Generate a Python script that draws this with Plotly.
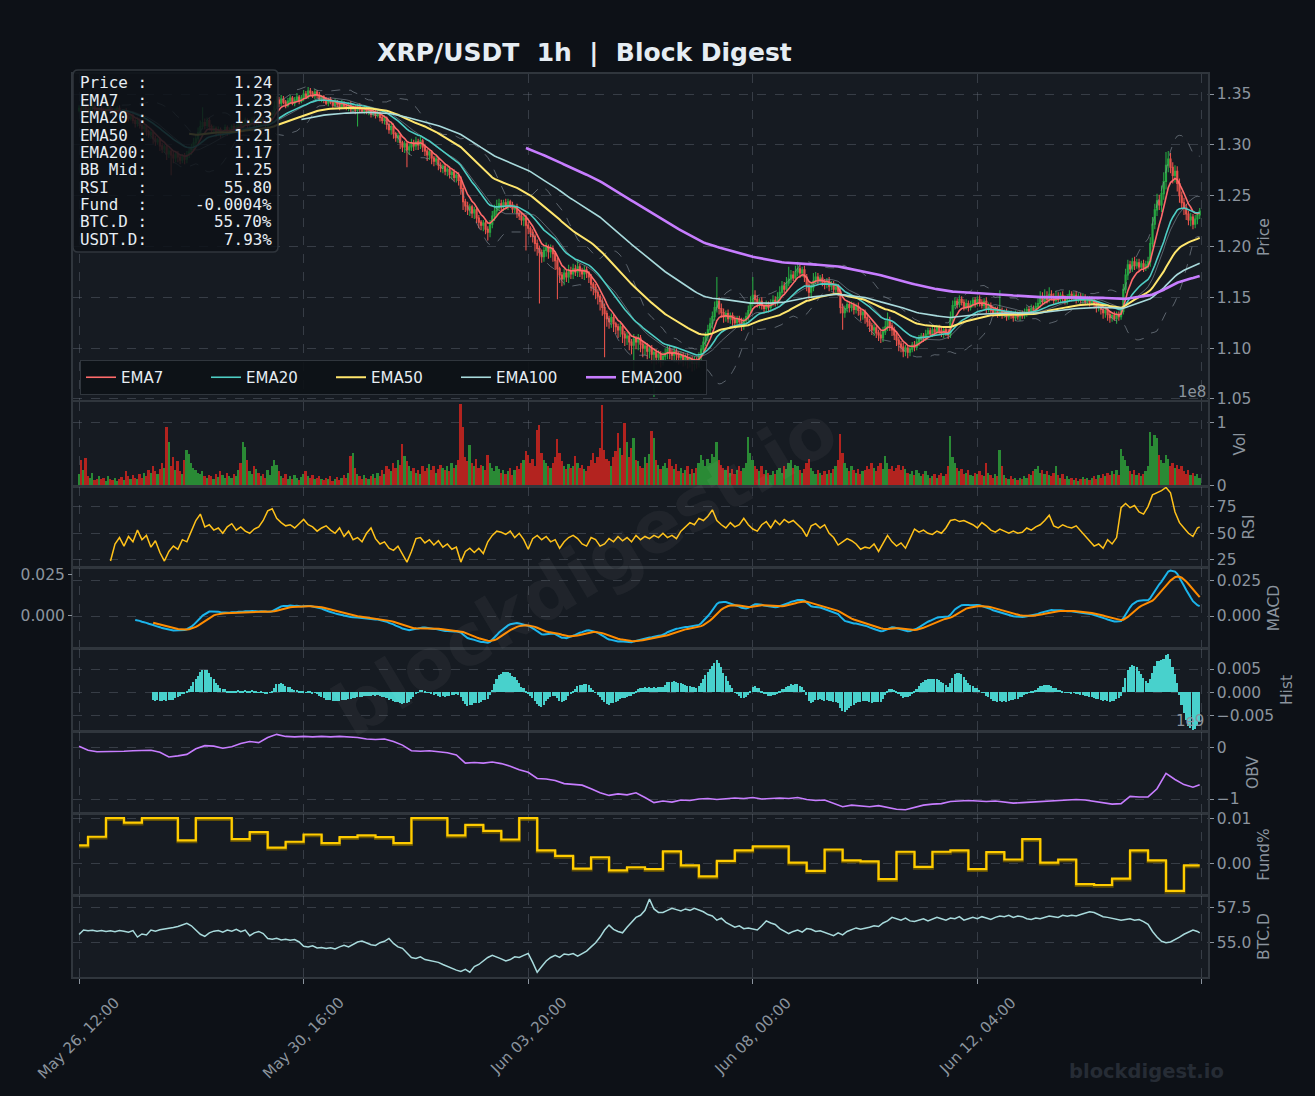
import numpy as np
import pandas as pd
import plotly.graph_objects as go

# ---------------- data ----------------
start_time = "2025-05-26 12:00"
first_open = 1.334

close = [
    1.336, 1.334, 1.338, 1.335, 1.332, 1.336, 1.339, 1.335, 1.333, 1.336,
    1.334, 1.331, 1.335, 1.337, 1.333, 1.330, 1.334, 1.336, 1.332, 1.331,
    1.333, 1.329, 1.326, 1.328, 1.324, 1.321, 1.324, 1.319, 1.316, 1.318,
    1.313, 1.310, 1.312, 1.306, 1.303, 1.305, 1.299, 1.296, 1.298, 1.291,
    1.294, 1.290, 1.287, 1.291, 1.288, 1.285, 1.289, 1.286, 1.290, 1.293,
    1.297, 1.302, 1.306, 1.312, 1.318, 1.322, 1.319, 1.324, 1.318, 1.314,
    1.316, 1.312, 1.315, 1.310, 1.313, 1.317, 1.312, 1.314, 1.318, 1.315,
    1.318, 1.321, 1.317, 1.320, 1.324, 1.319, 1.322, 1.325, 1.320, 1.323,
    1.321, 1.325, 1.322, 1.319, 1.323, 1.326, 1.330, 1.338, 1.344, 1.341,
    1.345, 1.342, 1.339, 1.343, 1.346, 1.341, 1.344, 1.347, 1.343, 1.346,
    1.350, 1.347, 1.353, 1.351, 1.348, 1.352, 1.349, 1.345, 1.347, 1.344,
    1.341, 1.344, 1.342, 1.339, 1.342, 1.340, 1.337, 1.341, 1.338, 1.336,
    1.339, 1.335, 1.337, 1.334, 1.338, 1.335, 1.333, 1.336, 1.332, 1.334,
    1.330, 1.333, 1.329, 1.331, 1.327, 1.324, 1.326, 1.320, 1.315, 1.318,
    1.311, 1.307, 1.309, 1.302, 1.298, 1.301, 1.295, 1.298, 1.302, 1.299,
    1.303, 1.300, 1.304, 1.298, 1.294, 1.290, 1.293, 1.287, 1.284, 1.286,
    1.280, 1.277, 1.279, 1.274, 1.276, 1.271, 1.273, 1.268, 1.270, 1.265,
    1.257, 1.244, 1.240, 1.236, 1.239, 1.233, 1.236, 1.228, 1.224, 1.221,
    1.223, 1.217, 1.214, 1.222, 1.230, 1.235, 1.238, 1.242, 1.239, 1.243,
    1.240, 1.244, 1.241, 1.237, 1.239, 1.233, 1.230, 1.226, 1.228, 1.221,
    1.218, 1.214, 1.210, 1.203, 1.198, 1.194, 1.190, 1.196, 1.199, 1.195,
    1.198, 1.193, 1.186, 1.178, 1.172, 1.168, 1.174, 1.170, 1.176, 1.173,
    1.178, 1.175, 1.180, 1.176, 1.173, 1.177, 1.174, 1.170, 1.163, 1.160,
    1.155, 1.151, 1.146, 1.140, 1.134, 1.129, 1.126, 1.130, 1.124, 1.121,
    1.118, 1.121, 1.114, 1.110, 1.112, 1.106, 1.103, 1.109, 1.106, 1.110,
    1.104, 1.100, 1.102, 1.097, 1.099, 1.094, 1.096, 1.091, 1.094, 1.089,
    1.092, 1.095, 1.099, 1.096, 1.093, 1.097, 1.094, 1.091, 1.093, 1.089,
    1.091, 1.087, 1.089, 1.085, 1.088, 1.086, 1.092, 1.099, 1.106, 1.112,
    1.118, 1.124, 1.131, 1.140, 1.146, 1.139, 1.135, 1.131, 1.134, 1.129,
    1.132, 1.128, 1.125, 1.129, 1.126, 1.123, 1.127, 1.131, 1.137, 1.145,
    1.152, 1.148, 1.144, 1.146, 1.142, 1.139, 1.143, 1.140, 1.144, 1.147,
    1.145, 1.150, 1.155, 1.161, 1.158, 1.164, 1.168, 1.172, 1.169, 1.175,
    1.178, 1.174, 1.177, 1.170, 1.162, 1.155, 1.160, 1.166, 1.170, 1.167,
    1.169, 1.165, 1.163, 1.166, 1.161, 1.163, 1.158, 1.160, 1.156, 1.140,
    1.135, 1.139, 1.143, 1.140, 1.142, 1.138, 1.141, 1.137, 1.133, 1.135,
    1.130, 1.126, 1.122, 1.118, 1.120, 1.115, 1.113, 1.110, 1.116, 1.121,
    1.127, 1.122, 1.118, 1.113, 1.108, 1.104, 1.101, 1.097, 1.100, 1.096,
    1.099, 1.103, 1.101, 1.106, 1.109, 1.112, 1.110, 1.114, 1.117, 1.114,
    1.118, 1.116, 1.120, 1.117, 1.114, 1.118, 1.115, 1.113, 1.130, 1.142,
    1.146, 1.143, 1.148, 1.145, 1.141, 1.144, 1.140, 1.143, 1.147, 1.144,
    1.148, 1.145, 1.142, 1.146, 1.139, 1.142, 1.137, 1.135, 1.138, 1.134,
    1.137, 1.133, 1.135, 1.131, 1.134, 1.132, 1.130, 1.133, 1.131, 1.134,
    1.132, 1.135, 1.138, 1.136, 1.139, 1.137, 1.141, 1.144, 1.149, 1.146,
    1.151, 1.148, 1.153, 1.150, 1.147, 1.151, 1.148, 1.152, 1.149, 1.146,
    1.150, 1.153, 1.149, 1.152, 1.148, 1.151, 1.147, 1.150, 1.146, 1.148,
    1.145, 1.147, 1.143, 1.140, 1.142, 1.138, 1.135, 1.137, 1.133, 1.130,
    1.132, 1.129, 1.133, 1.131, 1.136, 1.158, 1.172, 1.182, 1.178, 1.185,
    1.181, 1.184, 1.180, 1.183, 1.179, 1.182, 1.185, 1.203, 1.222, 1.236,
    1.245, 1.241, 1.252, 1.264, 1.280, 1.286, 1.278, 1.270, 1.274, 1.262,
    1.250, 1.243, 1.238, 1.232, 1.226, 1.229, 1.222, 1.227, 1.231, 1.235,
]

# wick extents above / below the candle body, in units of 0.001
wick_up = [
    3,2,4,2,3,2,3,2,2,3,2,3,2,4,2,3,2,2,3,2,
    2,3,2,2,3,2,3,2,2,3,2,2,3,2,3,2,2,3,2,3,
    3,2,3,2,3,2,2,3,4,3,4,5,4,5,6,15,4,3,3,2,
    3,2,3,2,2,3,2,3,2,3,2,3,3,2,3,2,3,2,3,2,
    2,3,2,3,2,3,4,5,4,3,4,3,2,3,3,2,3,4,2,3,
    4,3,4,3,2,3,2,3,2,2,3,2,3,2,3,2,2,3,2,2,
    3,4,3,2,2,3,2,3,2,2,3,2,2,3,2,2,3,2,2,3,
    3,2,3,2,2,3,2,3,4,3,5,3,4,2,3,2,3,2,2,3,
    2,3,2,3,2,3,2,3,2,3,4,5,3,4,3,2,3,2,3,2,
    3,2,3,4,5,6,8,5,4,3,4,3,2,3,2,3,2,3,2,3,
    3,2,3,2,4,3,3,4,5,3,4,3,2,3,2,3,4,3,6,4,
    5,4,6,3,3,4,3,2,3,2,3,3,2,3,4,3,3,4,3,2,
    3,4,3,3,4,3,3,5,3,4,3,3,4,3,3,4,3,3,4,3,
    4,5,3,4,3,4,3,3,4,3,3,4,3,3,4,3,4,4,5,4,
    5,6,5,6,24,4,5,4,3,4,3,3,4,3,3,4,3,4,5,6,
    18,5,4,3,4,3,4,3,4,5,4,5,6,5,4,6,12,5,4,6,
    7,4,3,4,3,4,5,8,5,4,3,4,3,3,4,3,3,4,3,3,
    4,3,4,3,4,3,3,4,3,3,3,4,3,3,4,3,3,4,5,6,
    8,4,3,3,4,3,3,4,3,3,4,3,4,3,4,3,3,4,3,3,
    3,4,3,3,4,3,3,4,6,5,4,3,4,3,3,4,3,4,3,3,
    3,4,3,3,4,3,3,4,3,3,20,3,3,4,3,3,3,4,3,3,
    3,4,3,3,4,3,4,5,7,6,7,5,7,4,4,5,4,3,4,3,
    3,4,3,3,4,3,3,4,3,3,3,4,3,3,4,3,3,4,3,3,
    3,4,3,3,4,5,6,5,4,4,5,4,4,3,4,4,5,6,7,6,
    7,6,8,9,13,8,6,5,6,5,5,4,5,4,3,4,3,4,3,3,
]
wick_dn = [
    2,3,2,3,2,3,2,3,2,2,3,2,3,2,3,2,3,2,2,3,
    3,2,3,2,3,4,3,3,4,3,4,3,4,5,4,3,5,4,4,6,
    4,20,5,4,5,4,3,5,4,3,3,2,3,3,2,3,4,3,4,3,
    3,4,3,3,2,3,3,2,3,2,3,2,3,3,2,3,2,3,2,3,
    2,3,2,3,2,2,3,2,3,4,3,2,3,2,3,2,3,2,3,2,
    3,2,2,3,2,3,3,2,3,3,2,3,2,3,2,3,3,2,3,2,
    3,4,3,4,16,3,2,3,2,3,3,2,3,2,4,3,4,5,4,5,
    5,4,5,6,5,6,17,5,4,5,4,5,4,5,5,6,5,6,5,4,
    5,4,5,4,5,4,5,4,5,5,6,8,6,5,6,5,6,5,6,5,
    6,5,8,5,4,5,4,3,4,4,3,4,3,4,4,5,4,5,6,25,
    6,5,6,8,7,50,6,5,6,7,6,8,9,30,8,7,6,5,6,5,
    5,4,5,6,5,6,5,6,7,8,7,8,9,8,43,8,7,6,8,7,
    8,7,9,8,7,8,9,32,7,8,8,9,7,8,7,9,42,7,6,8,
    6,5,6,7,6,7,8,7,6,7,6,7,6,8,7,6,5,4,5,4,
    5,4,5,4,5,6,5,6,5,4,5,6,5,4,5,6,5,4,4,3,
    4,5,4,5,4,5,4,5,4,3,4,3,4,3,4,3,3,4,3,4,
    4,5,4,5,6,7,5,4,3,4,3,4,5,4,5,4,5,4,5,6,
    17,5,4,5,4,5,4,5,6,5,6,5,6,5,6,5,6,5,4,3,
    4,5,6,5,6,7,5,6,5,6,4,3,4,3,4,3,4,3,4,3,
    3,4,3,4,3,4,3,4,3,4,3,4,3,3,4,3,4,3,3,4,
    3,4,3,4,5,4,5,4,3,4,3,4,3,4,3,3,4,3,3,4,
    3,3,4,3,3,4,3,3,4,3,3,4,3,3,4,3,3,4,3,3,
    3,4,3,3,4,3,3,4,3,3,4,3,4,5,4,5,6,5,6,5,
    4,2,5,4,3,3,4,5,4,3,4,3,4,3,4,3,4,5,4,5,
    6,5,7,6,8,7,6,8,7,8,7,6,7,6,5,6,5,4,5,4,
]

# hourly volume, millions of XRP
volume_m = [
    18, 40, 25, 44, 15, 12, 20, 8, 10, 14,
    9, 12, 7, 15, 10, 8, 11, 6, 9, 13,
    8, 22, 14, 10, 16, 12, 9, 18, 11, 20,
    14, 25, 19, 30, 22, 17, 26, 35, 28, 93,
    69, 30, 45, 25, 38, 22, 18, 40, 56, 50,
    35, 28, 24, 20, 18, 22, 15, 12, 16, 14,
    10, 18, 13, 22, 16, 12, 20, 15, 11, 17,
    14, 25, 35, 69, 61, 40, 22, 18, 30, 26,
    20, 14, 18, 12, 24, 16, 30, 40, 32, 22,
    15, 12, 18, 10, 14, 9, 16, 12, 8, 13,
    18, 22, 14, 11, 16, 9, 12, 15, 10, 8,
    12, 9, 14, 7, 10, 13, 8, 11, 16, 12,
    20, 47, 52, 28, 18, 14, 10, 16, 12, 9,
    14, 18, 11, 20, 15, 24, 18, 30, 26, 22,
    35, 28, 40, 32, 66, 47, 38, 30, 22, 28,
    20, 25, 18, 30, 22, 27, 34, 24, 30, 20,
    26, 33, 28, 24, 30, 22, 36, 28, 32, 40,
    130, 93, 45, 38, 64, 35, 30, 42, 28, 33,
    30, 25, 49, 36, 28, 22, 30, 26, 20, 24,
    18, 22, 28, 16, 24, 30, 26, 35, 40, 55,
    48, 36, 42, 30, 89, 97, 52, 40, 36, 30,
    28, 35, 45, 74, 51, 38, 30, 26, 34, 28,
    30, 47, 36, 28, 32, 26, 22, 30, 40, 51,
    36, 45, 60, 128, 57, 42, 38, 30, 45, 55,
    83, 60, 48, 100, 70, 45, 60, 75, 40, 38,
    30, 28, 45, 36, 50, 87, 75, 40, 32, 26,
    30, 36, 28, 42, 30, 26, 34, 22, 28, 20,
    24, 30, 18, 26, 20, 28, 35, 49, 40, 30,
    42, 36, 50, 45, 69, 40, 32, 28, 24, 30,
    20, 26, 18, 24, 30, 22, 28, 35, 77, 52,
    40, 30, 26, 22, 30, 18, 24, 20, 16, 22,
    18, 24, 28, 20, 30, 26, 35, 40, 28, 32,
    30, 24, 20, 26, 35, 42, 28, 22, 18, 24,
    20, 16, 22, 18, 24, 20, 26, 30, 40, 82,
    52, 36, 28, 22, 30, 24, 20, 26, 18, 22,
    24, 30, 26, 35, 28, 22, 30, 36, 26, 47,
    35, 26, 30, 22, 28, 32, 24, 30, 26, 20,
    18, 22, 16, 24, 20, 14, 18, 22, 16, 12,
    14, 18, 12, 16, 20, 14, 18, 30, 79, 45,
    35, 28, 22, 26, 18, 20, 24, 16, 14, 20,
    18, 22, 16, 14, 35, 20, 16, 12, 18, 14,
    57, 30, 16, 12, 10, 14, 9, 12, 8, 11,
    10, 14, 12, 18, 16, 22, 26, 30, 20, 24,
    18, 22, 16, 14, 20, 30, 16, 12, 18, 10,
    14, 9, 12, 8, 11, 7, 10, 13, 9, 12,
    8, 11, 14, 10, 16, 12, 18, 14, 20, 16,
    22, 18, 24, 16, 58, 47, 40, 30, 22, 18,
    24, 16, 20, 14, 18, 22, 30, 85, 63, 80,
    76, 49, 40, 35, 48, 42, 30, 36, 28, 32,
    26, 30, 22, 18, 24, 16, 20, 14, 18, 12,
]

# RSI(14) read every 2 hours from hour 14, plus the last hour
rsi_hours = list(range(14, 499, 2)) + [499]
rsi_vals = [
    24, 40, 46, 38, 47, 42, 53, 44, 48, 37,
    43, 32, 24, 33, 38, 35, 44, 42, 52, 62,
    68, 56, 58, 53, 55, 50, 56, 59, 53, 56,
    52, 50, 54, 56, 62, 71, 73, 64, 60, 57,
    58, 55, 59, 63, 58, 56, 52, 55, 57, 53,
    50, 55, 47, 52, 44, 46, 42, 50, 55, 45,
    40, 42, 36, 34, 38, 30, 23, 33, 45, 46,
    41, 44, 39, 43, 37, 40, 35, 37, 23, 33,
    36, 32, 36, 31, 42, 48, 52, 51, 49, 52,
    46, 50, 44, 35, 45, 48, 44, 47, 42, 44,
    36, 42, 46, 48, 45, 40, 38, 46, 44, 38,
    40, 45, 42, 47, 43, 46, 42, 48, 44, 47,
    45, 48, 46, 50, 46, 48, 45, 52, 56, 60,
    58, 64, 62, 66, 72, 62, 58, 55, 60, 56,
    58, 64, 58, 54, 52, 58, 61, 55, 62, 58,
    63, 60, 62, 58, 54, 47, 57, 59, 55, 58,
    50, 46, 39, 42, 45, 43, 40, 35, 37, 36,
    40, 33, 40, 48, 42, 38, 41, 36, 45, 54,
    51, 53, 50, 49, 52, 50, 55, 62, 63, 61,
    62, 60, 58, 55, 60, 57, 53, 51, 54, 52,
    50, 52, 50, 51, 55, 53, 56, 58, 62, 67,
    57, 55, 58, 56, 55, 57, 52, 48, 42, 38,
    40, 36, 44, 40, 46, 74, 78, 74, 76, 70,
    68, 75, 86, 88, 90, 93, 88, 70, 60, 55,
    50, 47, 55, 56,
]

# OBV (1e9) read every 4 hours, plus the last hour
obv_hours = list(range(0, 500, 4)) + [499]
obv_b = [
    0.03, -0.05, -0.08, -0.08, -0.07, -0.07, -0.06, -0.05, -0.05, -0.09,
    -0.18, -0.16, -0.13, -0.02, 0.04, 0.03, -0.01, 0.02, 0.08, 0.12,
    0.10, 0.20, 0.26, 0.22, 0.21, 0.22, 0.21, 0.22, 0.21, 0.22,
    0.21, 0.20, 0.17, 0.16, 0.17, 0.12, 0.05, -0.06, -0.07, -0.06,
    -0.08, -0.10, -0.14, -0.30, -0.29, -0.30, -0.28, -0.31, -0.36, -0.43,
    -0.48, -0.60, -0.61, -0.64, -0.70, -0.72, -0.73, -0.80, -0.88, -0.93,
    -0.90, -0.92, -0.88, -0.97, -1.07, -1.04, -1.06, -1.02, -1.03, -1.00,
    -0.99, -1.01, -1.00, -0.98, -0.99, -0.97, -1.00, -0.99, -0.98, -0.99,
    -0.97, -1.01, -1.03, -1.02, -1.08, -1.15, -1.12, -1.14, -1.15, -1.13,
    -1.16, -1.20, -1.21, -1.16, -1.12, -1.10, -1.09, -1.05, -1.04, -1.03,
    -1.04, -1.05, -1.04, -1.06, -1.08, -1.07, -1.06, -1.05, -1.03, -1.02,
    -1.01, -1.01, -1.02, -1.05, -1.07, -1.10, -1.09, -0.95, -0.96, -0.96,
    -0.80, -0.50, -0.62, -0.72, -0.77, -0.72,
]

# BTC dominance (%) read every 2 hours, plus the last hour
btc_hours = list(range(0, 500, 2)) + [499]
btc_d = [
    55.58, 55.90, 55.85, 55.88, 55.82, 55.86, 55.80, 55.84, 55.78, 55.86,
    55.82, 55.75, 55.86, 55.40, 55.62, 55.55, 55.90, 55.82, 55.92, 55.96,
    56.00, 56.08, 56.15, 56.25, 56.38, 56.20, 55.90, 55.60, 55.45, 55.70,
    55.82, 55.86, 55.75, 55.90, 55.82, 55.95, 55.78, 55.90, 55.50, 55.70,
    55.80, 55.65, 55.30, 55.25, 55.32, 55.20, 55.24, 55.18, 55.22, 55.05,
    54.74, 54.70, 54.78, 54.62, 54.66, 54.58, 54.64, 54.55, 54.70, 54.82,
    54.70, 54.90, 55.05, 55.12, 55.00, 54.85, 54.80, 55.00, 55.10, 55.30,
    54.95, 54.70, 54.60, 54.30, 53.95, 53.88, 54.00, 53.80, 53.72, 53.67,
    53.60, 53.45, 53.30, 53.20, 53.05, 52.95, 53.10, 52.90, 53.30, 53.45,
    53.70, 53.95, 54.10, 54.00, 53.85, 53.70, 53.80, 54.00, 53.95, 54.10,
    54.23, 53.60, 52.90, 53.30, 53.70, 53.95, 54.10, 53.95, 54.20, 54.15,
    54.23, 54.05, 54.20, 54.40, 54.70, 55.00, 55.40, 55.90, 56.25, 55.95,
    55.80, 55.70, 56.10, 56.45, 56.80, 56.95, 57.30, 58.10, 57.40, 57.15,
    57.15, 57.30, 57.45, 57.35, 57.25, 57.40, 57.30, 57.45, 57.35, 57.20,
    57.00, 56.90, 56.60, 56.75, 56.45, 56.30, 56.10, 56.20, 56.00, 56.05,
    56.00, 55.90, 56.20, 56.55, 56.40, 56.30, 56.00, 55.80, 55.65, 55.80,
    55.90, 55.75, 56.00, 55.95, 55.80, 55.85, 55.75, 55.60, 55.50, 55.70,
    55.55, 55.80, 55.90, 56.05, 55.95, 56.00, 56.10, 56.20, 56.15, 56.40,
    56.55, 56.80, 56.70, 56.60, 56.75, 56.55, 56.50, 56.60, 56.70, 56.55,
    56.65, 56.80, 56.70, 56.60, 56.75, 56.70, 56.85, 56.60, 56.70, 56.80,
    56.70, 56.85, 56.75, 56.65, 56.80, 56.90, 56.85, 56.95, 56.80, 56.90,
    56.85, 56.70, 56.65, 56.75, 56.70, 56.80, 56.90, 56.85, 56.80, 56.95,
    56.88, 56.95, 56.90, 57.00, 57.10, 57.20, 57.15, 57.00, 56.85, 56.80,
    56.75, 56.70, 56.60, 56.65, 56.70, 56.60, 56.65, 56.50, 56.30, 55.80,
    55.40, 55.10, 55.00, 55.05, 55.20, 55.40, 55.60, 55.75, 55.90, 55.80,
    55.70,
]

# funding rate (%) per 8-hour funding period (period start hour)
fund_hours = [0] + list(range(4, 500, 8))
fund_pct = [
    0.0040, 0.0059, 0.0100, 0.0090, 0.0100, 0.0100, 0.0051, 0.0100, 0.0100, 0.0054,
    0.0069, 0.0035, 0.0048, 0.0064, 0.0045, 0.0058, 0.0062, 0.0058, 0.0045, 0.0100,
    0.0100, 0.0062, 0.0085, 0.0072, 0.0053, 0.0100, 0.0029, 0.0017, -0.0011, 0.0014,
    -0.0015, -0.0008, -0.0012, 0.0027, -0.0004, -0.0028, 0.0006, 0.0029, 0.0038, 0.0038,
    0.0002, -0.0016, 0.0031, 0.0007, 0.0005, -0.0034, 0.0026, -0.0007, 0.0026, 0.0029,
    -0.0012, 0.0025, 0.0009, 0.0054, 0.0002, 0.0009, -0.0045, -0.0047, -0.0033, 0.0029,
    0.0007, -0.0060, -0.0004,
]

tick_hours = [0, 100, 200, 300, 400, 500]
tick_text = ["May 26, 12:00", "May 30, 16:00", "Jun 03, 20:00", "Jun 08, 00:00", "Jun 12, 04:00", ""]

info_labels = ["Price :", "EMA7  :", "EMA20 :", "EMA50 :", "EMA200:", "BB Mid:",
               "RSI   :", "Fund  :", "BTC.D :", "USDT.D:"]
info_values = ["1.24", "1.23", "1.23", "1.21", "1.17", "1.25",
               "55.80", "-0.0004%", "55.70%", "7.93%"]

# ---------------- derived series ----------------
n = len(close)
t0 = pd.Timestamp(start_time)
hours = np.arange(n)
times = t0 + pd.to_timedelta(hours, unit="h")
c = np.array(close)
o = np.array([first_open] + close[:-1])
hi = np.maximum(o, c) + np.array(wick_up[:n]) / 1000.0
lo = np.minimum(o, c) - np.array(wick_dn[:n]) / 1000.0
vol = np.array(volume_m[:n], dtype=float) * 1e6

s = pd.Series(c)


def ema(x, span):
    return x.ewm(span=span, adjust=False, min_periods=span).mean()


ema7, ema20, ema50, ema100, ema200 = (ema(s, k) for k in (7, 20, 50, 100, 200))
bb_mid = s.rolling(20).mean()
bb_std = s.rolling(20).std(ddof=0)
bb_up = bb_mid + 2 * bb_std
bb_lo = bb_mid - 2 * bb_std
macd = ema(s, 12) - ema(s, 26)
signal = macd.ewm(span=9, adjust=False, min_periods=9).mean()
hist = macd - signal

t_rsi = t0 + pd.to_timedelta(rsi_hours[:len(rsi_vals)], unit="h")
t_obv = t0 + pd.to_timedelta(obv_hours, unit="h")
t_btc = t0 + pd.to_timedelta(btc_hours, unit="h")
t_fund = list(t0 + pd.to_timedelta(fund_hours, unit="h")) + [t0 + pd.Timedelta(hours=n - 1)]
f_vals = list(fund_pct) + [fund_pct[-1]]

# ---------------- styling ----------------
FIG_BG = "#0d1117"
PLOT_BG = "#161b22"
GRID = "rgba(110,118,129,0.38)"
BORDER = "#30363d"
TXT = "#8b949e"
FONT = "DejaVu Sans"
GREEN = "#26a641"
RED = "#e5534b"
VGREEN = "#2a8a35"
VRED = "#b3231f"

W, H = 1315, 1096
L, R, T, B = 73, 1208, 74, 977
PW, PH = R - L, B - T


def pxx(px):
    return (px - L) / PW


def pxy(py):
    return (B - py) / PH


fig = go.Figure()

# price panel
fig.add_trace(go.Candlestick(
    x=times, open=o, high=hi, low=lo, close=c, xaxis="x", yaxis="y",
    increasing=dict(line=dict(color=GREEN, width=1.1), fillcolor=GREEN),
    decreasing=dict(line=dict(color=RED, width=1.1), fillcolor=RED),
    whiskerwidth=0, showlegend=False, hoverinfo="skip"))
for band in (bb_up, bb_lo):
    fig.add_trace(go.Scatter(x=times, y=band, mode="lines", xaxis="x", yaxis="y",
                             line=dict(color="rgba(139,148,158,0.6)", width=1, dash="dash"),
                             showlegend=False, hoverinfo="skip"))
fig.add_trace(go.Scatter(x=times, y=bb_mid, mode="lines", xaxis="x", yaxis="y",
                         line=dict(color="rgba(139,148,158,0.6)", width=1),
                         showlegend=False, hoverinfo="skip"))
for name, series, color, width in [
    ("EMA7", ema7, "#ff6b6b", 1.6),
    ("EMA20", ema20, "#4ecdc4", 1.6),
    ("EMA50", ema50, "#ffe66d", 2.0),
    ("EMA100", ema100, "#a8dadc", 1.6),
    ("EMA200", ema200, "#c77dff", 2.6),
]:
    fig.add_trace(go.Scatter(x=times, y=series, mode="lines", name=name, xaxis="x", yaxis="y",
                             line=dict(color=color, width=width), hoverinfo="skip"))

# volume
vcolors = [VGREEN if cc >= oo else VRED for cc, oo in zip(c, o)]
fig.add_trace(go.Bar(x=times, y=vol, xaxis="x2", yaxis="y2", marker=dict(color=vcolors, line=dict(width=0)),
                     width=3600000 * 0.8, showlegend=False, hoverinfo="skip"))
# RSI
fig.add_trace(go.Scatter(x=t_rsi, y=rsi_vals, mode="lines", xaxis="x3", yaxis="y3",
                         line=dict(color="#ffc21a", width=1.5), showlegend=False, hoverinfo="skip"))
# MACD
fig.add_trace(go.Scatter(x=times, y=macd, mode="lines", xaxis="x4", yaxis="y4",
                         line=dict(color="#1cb5ec", width=2), showlegend=False, hoverinfo="skip"))
fig.add_trace(go.Scatter(x=times, y=signal, mode="lines", xaxis="x4", yaxis="y4",
                         line=dict(color="#ff8c00", width=2), showlegend=False, hoverinfo="skip"))
fig.add_trace(go.Scatter(x=[times[0]], y=[0], mode="markers", xaxis="x4", yaxis="y9",
                         marker=dict(opacity=0), showlegend=False, hoverinfo="skip"))
# Histogram
fig.add_trace(go.Bar(x=times, y=hist, xaxis="x5", yaxis="y5", marker=dict(color="#48d1cc", line=dict(width=0)),
                     width=3600000 * 0.7, showlegend=False, hoverinfo="skip"))
# OBV
fig.add_trace(go.Scatter(x=t_obv, y=np.array(obv_b) * 1e9, mode="lines", xaxis="x6", yaxis="y6",
                         line=dict(color="#c77dff", width=1.6), showlegend=False, hoverinfo="skip"))
# Funding (soft shadow just below the line, then the line)
shadow_off = 0.0003
fig.add_trace(go.Scatter(x=t_fund, y=[v - shadow_off for v in f_vals], mode="lines", xaxis="x7", yaxis="y7",
                         line_shape="hv", line=dict(color="rgba(110,88,0,0.85)", width=3),
                         showlegend=False, hoverinfo="skip"))
fig.add_trace(go.Scatter(x=t_fund, y=f_vals, mode="lines", xaxis="x7", yaxis="y7", line_shape="hv",
                         line=dict(color="#ffcc00", width=2.2), showlegend=False, hoverinfo="skip"))
# BTC dominance
fig.add_trace(go.Scatter(x=t_btc, y=btc_d, mode="lines", xaxis="x8", yaxis="y8",
                         line=dict(color="#a8dadc", width=1.5), showlegend=False, hoverinfo="skip"))

# ---------------- axes ----------------
panels = [
    ("Price", 74, 400, [1.049, 1.3697], [1.05, 1.10, 1.15, 1.20, 1.25, 1.30, 1.35],
     ["1.05", "1.10", "1.15", "1.20", "1.25", "1.30", "1.35"]),
    ("Vol", 402, 486, [-0.015e8, 1.335e8], [0, 1e8], ["0", "1"]),
    ("RSI", 487, 567, [18.4, 93.4], [25, 50, 75], ["25", "50", "75"]),
    ("MACD", 568, 648, [-0.0225, 0.0338], [0, 0.025], ["0.000", "0.025"]),
    ("Hist", 649, 731, [-0.0083, 0.0093], [-0.005, 0, 0.005], ["\u22120.005", "0.000", "0.005"]),
    ("OBV", 732, 813, [-1.273e9, 0.306e9], [-1e9, 0], ["\u22121", "0"]),
    ("Fund%", 814, 895, [-0.0069, 0.0109], [0, 0.01], ["0.00", "0.01"]),
    ("BTC.D", 896, 977, [52.56, 58.32], [55, 57.5], ["55.0", "57.5"]),
]

x_range = [t0 - pd.Timedelta(hours=2.7), t0 + pd.Timedelta(hours=502.7)]
x_ticks = [t0 + pd.Timedelta(hours=h) for h in tick_hours]

layout = dict(
    width=W, height=H, autosize=False,
    margin=dict(l=L, r=W - R, t=T, b=H - B, pad=0),
    paper_bgcolor=FIG_BG, plot_bgcolor=PLOT_BG,
    font=dict(family=FONT, color=TXT, size=15),
    bargap=0, barmode="overlay",
    showlegend=True,
    legend=dict(orientation="h", x=pxx(80), y=pxy(395), xanchor="left", yanchor="bottom",
                bgcolor="rgba(13,17,23,0.92)", bordercolor=BORDER, borderwidth=1,
                font=dict(size=15, color="#e6edf3", family=FONT),
                entrywidth=80, entrywidthmode="pixels", itemwidth=30, tracegroupgap=0),
    title=dict(text="XRP/USDT\u00a0\u00a01h\u00a0\u00a0|\u00a0\u00a0Block Digest",
               x=584.5 / W, y=1 - 52 / H, xanchor="center", yanchor="middle",
               font=dict(family=FONT, size=25, color="#e6edf3", weight="bold")),
)

for i, (title, top, bot, rng, tv, tt) in enumerate(panels, start=1):
    sx = "" if i == 1 else str(i)
    last = i == len(panels)
    layout["xaxis" + sx] = dict(
        domain=[0, 1], anchor="y" + sx, type="date", range=x_range,
        matches=None if i == 1 else "x",
        tickvals=x_ticks, showticklabels=False,
        ticks="outside" if last else "", ticklen=5, tickcolor=TXT,
        showgrid=True, gridcolor=GRID, griddash="dash", gridwidth=1,
        showline=True, mirror=True, linecolor=BORDER, linewidth=1.5, zeroline=False,
        rangeslider=dict(visible=False),
    )
    layout["yaxis" + sx] = dict(
        domain=[pxy(bot), pxy(top)], anchor="x" + sx, side="right", range=rng,
        tickvals=tv, ticktext=tt, ticks="outside", ticklen=4, tickcolor=TXT,
        tickfont=dict(size=15.5, color=TXT, family=FONT),
        title=dict(text=title, font=dict(size=15.5, color=TXT, family=FONT), standoff=8),
        showgrid=True, gridcolor=GRID, griddash="dash", gridwidth=1,
        showline=True, mirror=True, linecolor=BORDER, linewidth=1.5, zeroline=False,
    )

layout["yaxis9"] = dict(
    overlaying="y4", anchor="x4", side="left", range=[-0.0193, 0.0289],
    tickvals=[0, 0.025], ticktext=["0.000", "0.025"], ticks="outside", ticklen=4, tickcolor=TXT,
    tickfont=dict(size=15.5, color=TXT, family=FONT), showgrid=False, zeroline=False, showline=False,
)

fig.update_layout(**layout)

# ---------------- info box, watermark, labels ----------------
x0b, x1b, y1b, y0b = pxx(73), pxx(278), pxy(70), pxy(252)
rx, ry = 5 / PW, 5 / PH
path = (f"M {x0b+rx},{y1b} L {x1b-rx},{y1b} Q {x1b},{y1b} {x1b},{y1b-ry} "
        f"L {x1b},{y0b+ry} Q {x1b},{y0b} {x1b-rx},{y0b} L {x0b+rx},{y0b} "
        f"Q {x0b},{y0b} {x0b},{y0b+ry} L {x0b},{y1b-ry} Q {x0b},{y1b} {x0b+rx},{y1b} Z")
fig.add_shape(type="path", path=path, xref="paper", yref="paper", layer="above",
              fillcolor="rgba(13,17,23,0.86)", line=dict(color=BORDER, width=1.5))

annotations = []
for k, (lab, val) in enumerate(zip(info_labels, info_values)):
    yy = pxy(83 + 17.35 * k)
    annotations.append(dict(text=lab, x=pxx(78), y=yy, xref="paper", yref="paper",
                            xanchor="left", yanchor="middle", showarrow=False,
                            font=dict(family="DejaVu Sans Mono", size=15.9, color="#e6edf3")))
    annotations.append(dict(text=val, x=pxx(274), y=yy, xref="paper", yref="paper",
                            xanchor="right", yanchor="middle", showarrow=False,
                            font=dict(family="DejaVu Sans Mono", size=15.9, color="#e6edf3")))

# x tick labels, rotated 45 degrees and centred under their ticks
for tx, lab in zip(x_ticks, tick_text):
    if not lab:
        continue
    annotations.append(dict(text=lab, x=tx, xref="x8", y=pxy(991), yref="paper",
                            xanchor="center", yanchor="top", textangle=-45, showarrow=False,
                            font=dict(family=FONT, size=15, color=TXT)))

annotations.append(dict(text="blockdigest.io", x=pxx(585), y=pxy(570), xref="paper", yref="paper",
                        showarrow=False, textangle=-31, xanchor="center", yanchor="middle",
                        font=dict(family=FONT, size=72, color="rgba(255,255,255,0.045)", weight="bold")))
annotations.append(dict(text="blockdigest.io", x=pxx(1226), y=pxy(1071), xref="paper", yref="paper",
                        showarrow=False, xanchor="right", yanchor="middle",
                        font=dict(family=FONT, size=19.5, color="#262c35", weight="bold")))
annotations.append(dict(text="1e8", x=pxx(1208), y=pxy(392), xref="paper", yref="paper",
                        showarrow=False, xanchor="right", yanchor="middle",
                        font=dict(family=FONT, size=15, color=TXT)))
annotations.append(dict(text="1e9", x=pxx(1206), y=pxy(721), xref="paper", yref="paper",
                        showarrow=False, xanchor="right", yanchor="middle",
                        font=dict(family=FONT, size=15, color=TXT)))
fig.update_layout(annotations=annotations)

fig.write_html("out.html")
